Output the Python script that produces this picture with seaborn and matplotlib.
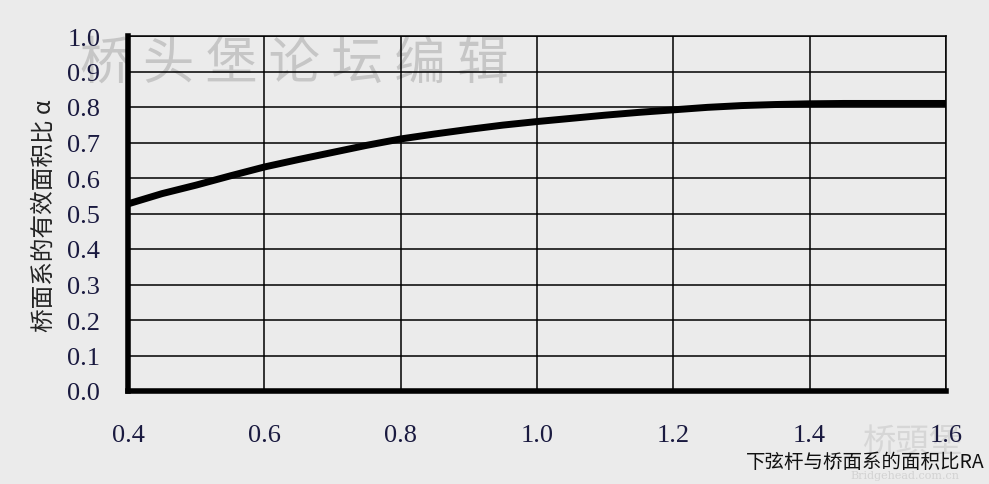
import pandas as pd
import seaborn as sns
import matplotlib.pyplot as plt

# area ratio RA (x) and effective area ratio alpha (y)
ra = [0.40, 0.45, 0.50, 0.55, 0.60, 0.65, 0.70, 0.75, 0.80, 0.85, 0.90, 0.95, 1.00,
      1.05, 1.10, 1.15, 1.20, 1.25, 1.30, 1.35, 1.40, 1.45, 1.50, 1.55, 1.60]
alpha = [0.527, 0.556, 0.580, 0.606, 0.631, 0.652, 0.672, 0.692, 0.710, 0.724, 0.737,
         0.749, 0.759, 0.768, 0.777, 0.785, 0.792, 0.799, 0.804, 0.807, 0.809, 0.810,
         0.810, 0.810, 0.810]
xticks = [0.4, 0.6, 0.8, 1.0, 1.2, 1.4, 1.6]
yticks = [0.0, 0.1, 0.2, 0.3, 0.4, 0.5, 0.6, 0.7, 0.8, 0.9, 1.0]

sns.set_style("white")
plt.rcParams['font.family'] = ['Noto Sans CJK SC', 'DejaVu Sans']

bg = "#ebebeb"
fig = plt.figure(figsize=(9.89, 4.85), dpi=100, facecolor=bg)
ax = fig.add_axes([128 / 989, 1 - 392 / 485, (946 - 128) / 989, (392 - 37) / 485])
ax.patch.set_alpha(0)

# watermarks
fig.text(80 / 989, 1 - 64 / 485, "桥 头 堡 论 坛 编 辑", fontsize=37, color="#c6c6c6",
         va="center", ha="left", zorder=-5)
fig.text(912 / 989, 1 - 442 / 485, "桥頭堡", fontsize=24, color="#d6d6d6",
         va="center", ha="center", zorder=-5)
fig.text(905 / 989, 1 - 476 / 485, "Bridgehead.com.cn", fontsize=8, color="#d2d2d2",
         va="center", ha="center", zorder=-5, family="DejaVu Serif")

df = pd.DataFrame({"RA": ra, "alpha": alpha})
sns.lineplot(data=df, x="RA", y="alpha", ax=ax, color="black", linewidth=5,
             solid_capstyle="butt", zorder=5)

ax.set_xlim(0.4, 1.6)
ax.set_ylim(0.0, 1.0)
ax.set_xticks(xticks)
ax.set_yticks(yticks)
ax.set_xticklabels([f"{v:.1f}" for v in xticks])
ax.set_yticklabels([f"{v:.1f}" for v in yticks])

ax.grid(True, color="black", linewidth=1.1)
ax.set_axisbelow(True)

for side in ["left", "bottom"]:
    ax.spines[side].set_linewidth(4)
    ax.spines[side].set_color("black")
for side in ["top", "right"]:
    ax.spines[side].set_linewidth(1.1)
    ax.spines[side].set_color("black")

ax.tick_params(axis="both", direction="in", length=5, width=3.5, color="black",
               labelcolor="#1a1a40", labelsize=19)
ax.tick_params(axis="y", pad=20)
ax.tick_params(axis="x", pad=24)
for lab in ax.get_xticklabels() + ax.get_yticklabels():
    lab.set_family("Liberation Serif")

ax.set_xlabel("")
ax.set_ylabel("")
fig.text(44 / 989, 1 - 216 / 485, "桥面系的有效面积比 α", rotation=90, fontsize=17,
         color="#222222", va="center", ha="center")
fig.text(985 / 989, 1 - 462 / 485, "下弦杆与桥面系的面积比RA", fontsize=14,
         color="#111111", va="center", ha="right")

fig.savefig("out.png", dpi=100, facecolor=bg)
